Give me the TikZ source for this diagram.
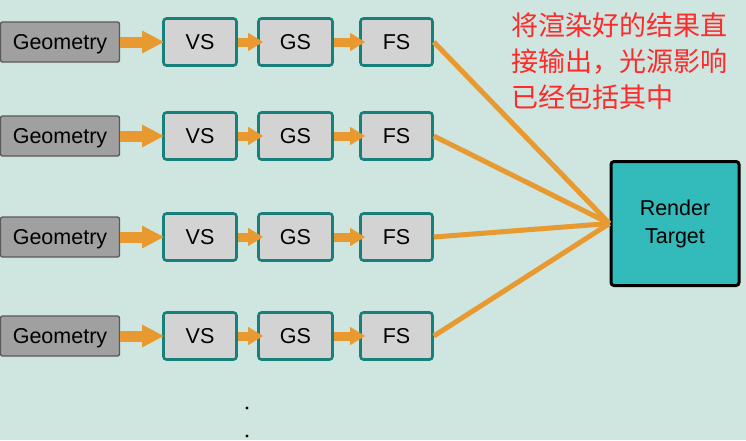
\documentclass[tikz,border=0pt]{standalone}
\usepackage{fontspec}
\setmainfont{Liberation Sans}
\newfontfamily\cjk{Noto Sans CJK SC}
\usetikzlibrary{arrows.meta}
\definecolor{bgmint}{HTML}{CFE5DF}
\definecolor{flow}{HTML}{E8992F}
\definecolor{stageedge}{HTML}{17807A}
\definecolor{stagefill}{HTML}{D3D3D3}
\definecolor{geofill}{HTML}{A0A0A0}
\definecolor{rtfill}{HTML}{33BBBB}
\definecolor{note}{HTML}{FF2A2A}
\tikzset{
  geobox/.style={draw=black!65, line width=1.3pt, fill=geofill, rounded corners=2pt,
    minimum width=119pt, minimum height=40pt, inner sep=0pt, text depth=0pt,
    font=\fontsize{21.5}{24}\selectfont},
  stagebox/.style={draw=stageedge, line width=2.6pt, fill=stagefill, rounded corners=3pt,
    minimum height=47pt, inner sep=0pt, text depth=0pt, font=\fontsize{21.5}{24}\selectfont},
  bigflow/.style={flow, line width=11pt, shorten >=-2pt, -{Triangle[length=22pt,width=21pt]}},
  smallflow/.style={flow, line width=9pt, shorten >=-6pt, -{Triangle[length=15pt,width=17pt]}},
  fanline/.style={flow, line width=5pt},
  rtbox/.style={draw=black, line width=3pt, fill=rtfill, rounded corners=3pt,
    minimum width=128pt, minimum height=124pt, align=center, inner sep=0pt,
    font=\fontsize{21.5}{28}\selectfont},
  notetext/.style={note, anchor=base west, inner sep=0pt, font=\cjk\fontsize{27}{36}\selectfont},
}
\begin{document}
\begin{tikzpicture}[x=1pt, y=-1pt]
  \fill[bgmint] (0,0) rectangle (746,440);
  \useasboundingbox (0,0) rectangle (746,440);

  % render target
  \node[rtbox] (rt) at (675,223.5) {Render\\Target};

  % four pipelines: boxes first, then the arrows on top
  \foreach \i/\y in {1/42, 2/136, 3/237, 4/336} {
    \node[geobox] (geo\i) at (60,\y) {Geometry};
    \node[stagebox, minimum width=73pt] (vs\i) at (200,\y) {VS};
    \node[stagebox, minimum width=74pt] (gs\i) at (295.5,\y) {GS};
    \node[stagebox, minimum width=72pt] (fs\i) at (396.5,\y) {FS};
    \draw[fanline] (fs\i.east) -- (rt.west);
    \draw[bigflow] (geo\i.east) -- (vs\i.west);
    \draw[smallflow] (vs\i.east) -- (gs\i.west);
    \draw[smallflow] (gs\i.east) -- (fs\i.west);
  }

  % continuation dots
  \fill (247,408) circle (1.6pt);
  \fill (247,436) circle (1.6pt);

  % annotation
  \node[notetext] (t1) at (511,35) {将渲染好的结果直};
  \node[notetext] (t2) at (511,71) {接输出，光源影响};
  \node[notetext] (t3) at (511,107) {已经包括其中};
\end{tikzpicture}
\end{document}
